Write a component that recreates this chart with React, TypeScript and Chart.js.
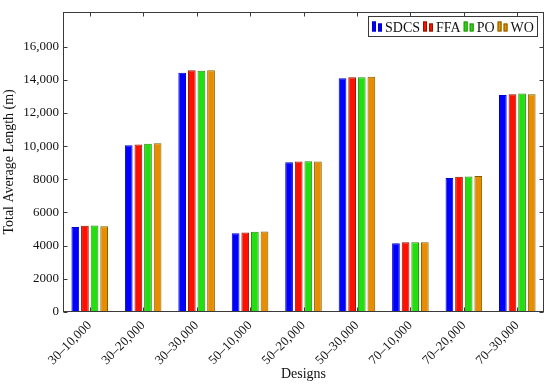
import React, { useEffect, useRef } from "react";
import { Chart, registerables } from "chart.js";

Chart.register(...registerables);

const categories = [
  "30–10,000", "30–20,000", "30–30,000",
  "50–10,000", "50–20,000", "50–30,000",
  "70–10,000", "70–20,000", "70–30,000",
];
const seriesNames = ["SDCS", "FFA", "PO", "WO"];
const sdcs = [5120, 10050, 14430, 4750, 9030, 14100, 4140, 8080, 13080];
const ffa = [5200, 10100, 14580, 4800, 9080, 14150, 4200, 8160, 13130];
const po = [5220, 10150, 14550, 4840, 9090, 14150, 4200, 8170, 13180];
const wo = [5170, 10180, 14580, 4850, 9080, 14190, 4210, 8200, 13130];
const yTicks = [0, 2000, 4000, 6000, 8000, 10000, 12000, 14000, 16000];

const fills = ["#0000ff", "#ff1000", "#22e010", "#e88c00"];
const borders = ["#0000d0", "#8a1800", "#2f8a10", "#806000"];

const FONT = "'Liberation Serif', 'Times New Roman', serif";

const framePlugin = {
  id: "frame",
  afterDraw(chart: any) {
    const ctx = chart.ctx;
    const { left, right, top, bottom } = chart.chartArea;
    ctx.save();
    ctx.strokeStyle = "#3a3a3a";
    ctx.lineWidth = 1;
    const L = Math.round(left) + 0.5, R = Math.round(right) - 0.5;
    const T = Math.round(top) + 0.5, B = Math.round(bottom) - 0.5;
    ctx.strokeRect(L, T, R - L, B - T);
    const ys = chart.scales.y;
    ctx.beginPath();
    yTicks.forEach((v) => {
      const py = Math.round(ys.getPixelForValue(v)) + 0.5;
      ctx.moveTo(L, py); ctx.lineTo(L + 4, py);
      ctx.moveTo(R, py); ctx.lineTo(R - 4, py);
    });
    const xs = chart.scales.x;
    categories.forEach((_, i) => {
      const px = Math.round(xs.getPixelForValue(i)) + 0.5;
      ctx.moveTo(px, B); ctx.lineTo(px, B - 4);
      ctx.moveTo(px, T); ctx.lineTo(px, T + 4);
    });
    ctx.stroke();

    // legend
    ctx.font = `14px ${FONT}`;
    const iconW = 11, gapAfterIcon = 2, gapAfterText = 3, padL = 3, padR = 5;
    let total = padL + padR;
    seriesNames.forEach((n, i) => {
      total += iconW + gapAfterIcon + ctx.measureText(n).width + (i < seriesNames.length - 1 ? gapAfterText : 0);
    });
    const boxRight = 537.5, boxTop = 16.5, boxH = 20;
    const boxLeft = Math.round(boxRight - total) + 0.5;
    ctx.fillStyle = "#ffffff";
    ctx.fillRect(boxLeft, boxTop, boxRight - boxLeft, boxH);
    ctx.strokeStyle = "#3a3a3a";
    ctx.strokeRect(boxLeft, boxTop, boxRight - boxLeft, boxH);
    let x = boxLeft + 0.5 + padL;
    const base = boxTop + 15;
    seriesNames.forEach((n, i) => {
      ctx.fillStyle = fills[i];
      ctx.strokeStyle = borders[i];
      ctx.fillRect(x, base - 10, 4, 10);
      ctx.strokeRect(x + 0.5, base - 9.5, 3, 9);
      ctx.fillRect(x + 6, base - 8, 4, 8);
      ctx.strokeRect(x + 6.5, base - 7.5, 3, 7);
      x += iconW + gapAfterIcon;
      ctx.fillStyle = "#111";
      ctx.textBaseline = "alphabetic";
      ctx.textAlign = "left";
      ctx.fillText(n, x, base);
      x += ctx.measureText(n).width + gapAfterText;
    });
    ctx.restore();
  },
};

export default function App() {
  const ref = useRef<HTMLCanvasElement>(null);
  useEffect(() => {
    document.body.style.margin = "0";
    const data = [sdcs, ffa, po, wo];
    const chart = new Chart(ref.current!, {
      type: "bar",
      data: {
        labels: categories,
        datasets: seriesNames.map((name, i) => ({
          label: name,
          data: data[i],
          backgroundColor: fills[i],
          borderColor: borders[i],
          borderWidth: 1,
          categoryPercentage: 0.72,
          barPercentage: 0.8,
        })),
      },
      options: {
        responsive: false,
        animation: false,
        layout: { padding: { top: 8, right: 6, left: 0, bottom: 0 } },
        plugins: { legend: { display: false }, tooltip: { enabled: false } },
        scales: {
          x: {
            grid: { display: false, drawTicks: false },
            border: { display: false },
            ticks: {
              color: "#111",
              font: { family: FONT, size: 13 },
              minRotation: 45,
              maxRotation: 45,
              padding: 6,
              autoSkip: false,
            },
            title: {
              display: true,
              text: "Designs",
              color: "#111",
              font: { family: FONT, size: 14 },
              padding: { top: 0, bottom: 5 },
            },
            afterFit: (s: any) => { s.height = 76; },
          },
          y: {
            min: 0,
            max: 18100,
            grid: { display: false, drawTicks: false },
            border: { display: false },
            afterBuildTicks: (s: any) => { s.ticks = yTicks.map((v) => ({ value: v })); },
            ticks: {
              color: "#111",
              font: { family: FONT, size: 13 },
              padding: 4,
              callback: (v: any) => (v >= 10000 ? Number(v).toLocaleString("en-US") : String(v)),
            },
            title: {
              display: true,
              text: "Total Average Length (m)",
              color: "#111",
              font: { family: FONT, size: 14 },
              padding: { top: 1, bottom: 2 },
            },
            afterFit: (s: any) => { s.width = 63; },
          },
        },
      },
      plugins: [framePlugin],
    });
    return () => chart.destroy();
  }, []);
  return <canvas ref={ref} width={550} height={388} style={{ display: "block" }} />;
}
